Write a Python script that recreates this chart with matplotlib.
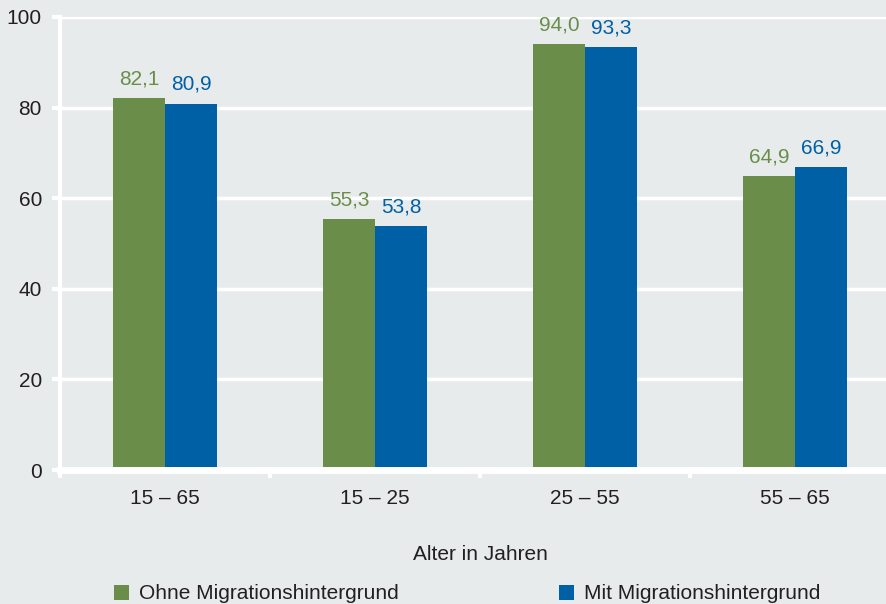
import matplotlib.pyplot as plt
import numpy as np

plt.rcParams['font.family'] = ['Liberation Sans', 'DejaVu Sans']

# Daten
altersgruppen = ["15 – 65", "15 – 25", "25 – 55", "55 – 65"]
ohne_migration = [82.1, 55.3, 94.0, 64.9]
mit_migration = [80.9, 53.8, 93.3, 66.9]
y_ticks = [0, 20, 40, 60, 80, 100]

bg = "#e8ebec"
gruen = "#6a8e4a"
blau = "#0060a6"
txt = "#231f20"
fs = 15

fig = plt.figure(figsize=(8.86, 6.04), dpi=100, facecolor=bg)
ax = fig.add_axes([60/886, 1 - 470/604, 840/886, 453/604], facecolor=bg)

x = np.arange(len(altersgruppen))
w = 0.248
b1 = ax.bar(x - w/2, ohne_migration, w, color=gruen, label="Ohne Migrationshintergrund", zorder=3)
b2 = ax.bar(x + w/2, mit_migration, w, color=blau, label="Mit Migrationshintergrund", zorder=3)

# Werte über den Balken
for bars, col in ((b1, gruen), (b2, blau)):
    for r in bars:
        h = r.get_height()
        ax.annotate(f"{h:.1f}".replace(".", ","), (r.get_x() + r.get_width()/2, h),
                    xytext=(0, 7), textcoords="offset points", ha="center", va="bottom",
                    color=col, fontsize=fs)

ax.set_ylim(0, 100)
ax.set_xlim(-0.5, 3.5)
ax.set_yticks(y_ticks)
ax.grid(axis="y", color="white", linewidth=2.5, zorder=0)
ax.set_axisbelow(True)

for s in ["top", "right"]:
    ax.spines[s].set_visible(False)
ax.spines["left"].set_color("white")
ax.spines["left"].set_linewidth(3)
ax.spines["bottom"].set_color("white")
ax.spines["bottom"].set_linewidth(5)
ax.spines["bottom"].set_zorder(4)

ax.set_xticks(x)
ax.set_xticklabels(altersgruppen)
ax.set_xticks(np.arange(-0.5, 4, 1), minor=True)
ax.tick_params(axis="x", which="major", length=0, pad=14, labelsize=fs, labelcolor=txt)
ax.tick_params(axis="x", which="minor", length=6, width=3, color="white", direction="out")
ax.tick_params(axis="y", length=6, width=3, color="white", labelsize=fs, labelcolor=txt, pad=7)

ax.set_xlabel("Alter in Jahren", fontsize=fs, color=txt, labelpad=26)

fig.legend(handles=[b1, b2], loc="lower left", bbox_to_anchor=(95/886, -0.03), ncol=2,
           frameon=False, fontsize=fs, handlelength=0.72, handleheight=0.72,
           handletextpad=0.48, columnspacing=7.7, labelcolor=txt)

fig.savefig("out.png", dpi=100, facecolor=bg)
